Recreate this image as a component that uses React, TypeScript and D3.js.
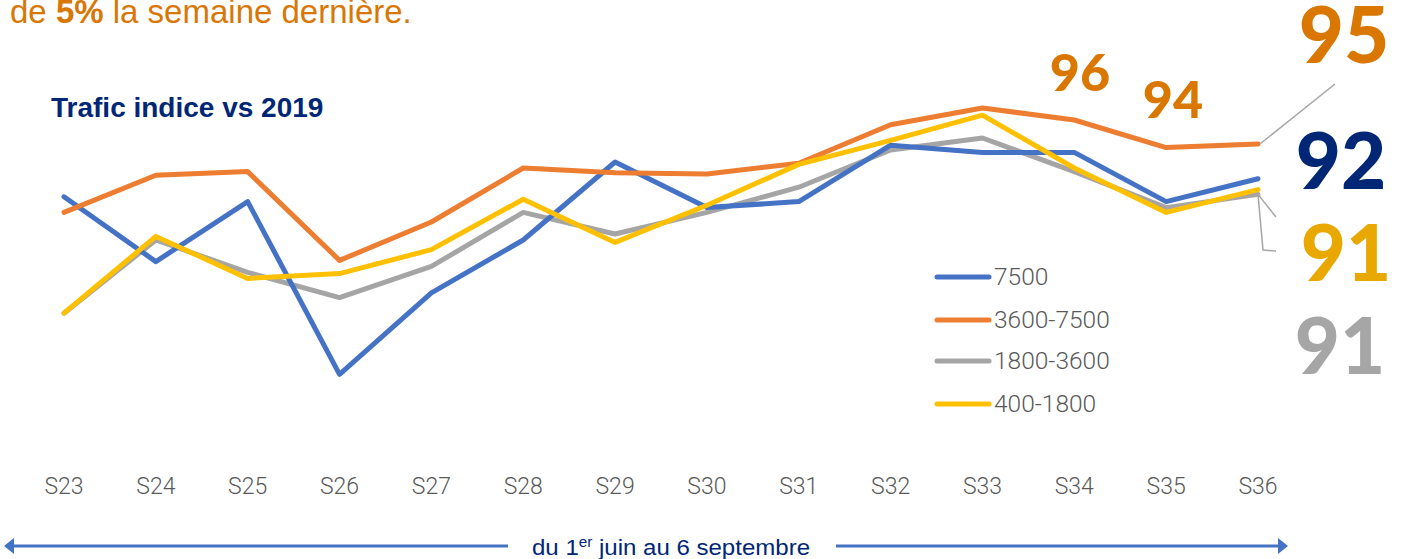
import React from "react";
import * as d3 from "d3";

const weeks = ["S23","S24","S25","S26","S27","S28","S29","S30","S31","S32","S33","S34","S35","S36"];
const s7500 = [90.6,85.2,90.2,75.8,82.6,87.0,93.5,89.7,90.2,94.9,94.3,94.3,90.2,92.1];
const s3600_7500 = [89.3,92.4,92.7,85.3,88.5,93.0,92.6,92.5,93.4,96.6,98.0,97.0,94.7,95.0];
const s1800_3600 = [80.9,87.0,84.3,82.2,84.8,89.3,87.5,89.3,91.4,94.5,95.5,92.7,89.7,90.8];
const s400_1800 = [80.9,87.3,83.8,84.2,86.2,90.4,86.8,89.9,93.3,95.3,97.4,93.0,89.3,91.2];
const seriesNames = ["7500","3600-7500","1800-3600","400-1800"];
const seriesColors = ["#4472C4","#ED7D31","#A5A5A5","#FFC000"];
const endLabels = ["95","92","91","91"];
const endLabelColors = ["#D97700","#002776","#E8A800","#A6A6A6"];

export default function App() {
  const W = 1412, H = 559;
  const x = d3.scalePoint<string>().domain(weeks).range([64, 1258]);
  const y = d3.scaleLinear().domain([70, 100]).range([444, 84]);
  const data = [s7500, s3600_7500, s1800_3600, s400_1800];
  const line = d3.line<number>().x((_, i) => x(weeks[i]) as number).y(v => y(v));
  const order = [2, 0, 1, 3];
  const lastX = x(weeks[weeks.length - 1]) as number;
  const legendY = [277, 320, 361, 404];
  const big = { fontFamily: "Lato, sans-serif", fontWeight: 900 } as const;
  return (
    <svg width={W} height={H} style={{ position: "absolute", left: 0, top: 0, background: "#fff" }}>
      <text x={10} y={23} fontFamily="Liberation Sans, Arial, sans-serif" fontSize={33} fill="#D97706">
        de <tspan fontWeight="bold">5%</tspan> la semaine dernière.
      </text>
      <text x={51} y={117} fontFamily="Liberation Sans, Arial, sans-serif" fontSize={28} fontWeight="bold" fill="#002776">
        Trafic indice vs 2019
      </text>
      {order.map(k => (
        <path key={k} d={line(data[k]) || ""} fill="none" stroke={seriesColors[k]} strokeWidth={5} strokeLinejoin="round" strokeLinecap="round" />
      ))}
      {weeks.map(w => (
        <text key={w} x={x(w)} y={494} textAnchor="middle" fontFamily="Roboto, Noto Sans, sans-serif" fontWeight={300} fontSize={23} fill="#595959">{w}</text>
      ))}
      {seriesNames.map((n, i) => (
        <g key={n}>
          <line x1={937} x2={989} y1={legendY[i]} y2={legendY[i]} stroke={seriesColors[i]} strokeWidth={5} strokeLinecap="round" />
          <text x={994} y={legendY[i] + 8} fontFamily="Roboto, Noto Sans, sans-serif" fontWeight={300} fontSize={24.5} fill="#595959">{n}</text>
        </g>
      ))}
      {/* connectors */}
      <line x1={lastX + 2} y1={y(s3600_7500[13])} x2={1335} y2={84} stroke="#A6A6A6" strokeWidth={1.5} />
      <polyline points={`${lastX},${y(s1800_3600[13])} ${lastX + 5},250 1276,251`} fill="none" stroke="#A6A6A6" strokeWidth={1.5} />
      <line x1={lastX} y1={y(s1800_3600[13])} x2={1276} y2={217} stroke="#A6A6A6" strokeWidth={1.5} />
      {/* peak labels */}
      <text x={1080} y={91} textAnchor="middle" {...big} fontSize={52} fill="#D97700">96</text>
      <text x={1173} y={118} textAnchor="middle" {...big} fontSize={52} fill="#D97700">94</text>
      {/* end labels */}
      <text x={1344} y={63} textAnchor="middle" {...big} fontSize={78} fill={endLabelColors[0]}>{endLabels[0]}</text>
      <text x={1341} y={189} textAnchor="middle" {...big} fontSize={78} fill={endLabelColors[1]}>{endLabels[1]}</text>
      <text x={1346} y={281} textAnchor="middle" {...big} fontSize={78} fill={endLabelColors[2]}>{endLabels[2]}</text>
      <text x={1340} y={374} textAnchor="middle" {...big} fontSize={78} fill={endLabelColors[3]}>{endLabels[3]}</text>
      {/* bottom arrow */}
      <line x1={12} x2={508} y1={546} y2={546} stroke="#4472C4" strokeWidth={3} />
      <line x1={836} x2={1280} y1={546} y2={546} stroke="#4472C4" strokeWidth={3} />
      <path d="M4,546 L14,538 L14,554 Z" fill="#4472C4" />
      <path d="M1288,546 L1278,538 L1278,554 Z" fill="#4472C4" />
      <text x={532} y={555} fontFamily="Liberation Sans, Arial, sans-serif" fontSize={22} fill="#002776" textLength={278} lengthAdjust="spacingAndGlyphs">
        du 1<tspan dy={-8} fontSize={14}>er</tspan><tspan dy={8}> juin au 6 septembre</tspan>
      </text>
    </svg>
  );
}
